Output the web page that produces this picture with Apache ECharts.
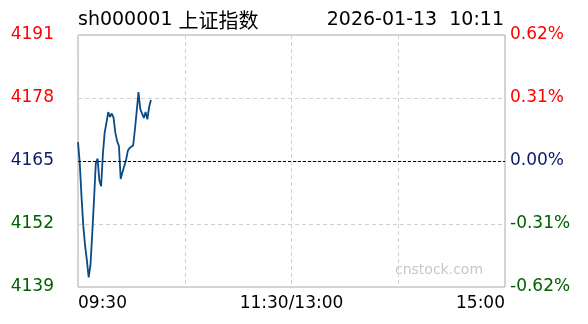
<!DOCTYPE html>
<html>
<head>
<meta charset="utf-8">
<script src="https://cdn.jsdelivr.net/npm/echarts@6/dist/echarts.min.js"></script>
<style>
html,body{margin:0;padding:0;background:#fff;}
#c{width:588px;height:324px;}
</style>
</head>
<body>
<div id="c"></div>
<script>
var titleCode = 'sh000001 ';
var titleName = '上证指数';
var dateText = '2026-01-13  10:11';
var watermark = 'cnstock.com';
var preClose = 4165;
var priceTickLabels = ['4139', '4152', '4165', '4178', '4191'];
var pctTickLabels = ['-0.62%', '-0.31%', '0.00%', '0.31%', '0.62%'];
var timeTickLabels = ['09:30', '', '11:30/13:00', '', '15:00'];
// minute-by-minute prices from 09:30 to 10:11
var prices = [
  4168.9, 4164.5, 4157.5, 4151.5, 4147.5, 4144.5, 4141.0, 4143.5, 4150.0, 4157.0,
  4164.5, 4165.5, 4161.0, 4159.8, 4166.5, 4170.9, 4172.9, 4175.1, 4174.1, 4174.8,
  4173.9, 4170.8, 4169.1, 4168.1, 4161.3, 4162.7, 4162.5, 4165.2, 4167.1, 4167.7,
  4167.5, 4168.2, 4171.5, 4175.3, 4179.2, 4175.7, 4175.6, 4173.9, 4175.1, 4173.6,
  4176.2, 4177.6
];

var FONT = '"DejaVu Sans", "Noto Sans CJK SC", sans-serif';
var labelColors = ['#006000', '#006000', '#0a1a6e', '#ff0000', '#ff0000'];
function tickIdx(v){ return Math.round((Number(v) + 26) / 13); }

var data = prices.map(function(p, i){ return [i, +(p - preClose).toFixed(2)]; });

var chart = echarts.init(document.getElementById('c'), null, {renderer:'canvas'});
chart.setOption({
  animation: false,
  backgroundColor: '#fff',
  grid: {left: 78, right: 83, top: 35, bottom: 37, show: true, borderColor: '#aaaaaa', borderWidth: 1, backgroundColor: 'transparent'},
  xAxis: {
    type: 'value', min: 0, max: 240, interval: 60,
    axisLine: {show: false}, axisTick: {show: false},
    splitLine: {show: true, lineStyle: {color: '#d0d0d0', type: [4, 3], width: 1}},
    axisLabel: {
      show: true, showMinLabel: true, showMaxLabel: true,
      alignMinLabel: 'left', alignMaxLabel: 'right',
      margin: 8, fontSize: 17, color: '#000', fontFamily: FONT,
      formatter: function(v){ return timeTickLabels[Math.round(v / 60)] || ''; }
    }
  },
  yAxis: [{
    type: 'value', min: -26, max: 26, interval: 13, position: 'left',
    axisLine: {show: false}, axisTick: {show: false},
    splitLine: {show: true, lineStyle: {color: '#d0d0d0', type: [4, 3], width: 1}},
    axisLabel: {
      margin: 24, fontSize: 17, fontFamily: FONT,
      formatter: function(v){ return priceTickLabels[tickIdx(v)]; },
      color: function(v){ return labelColors[tickIdx(v)]; }
    }
  }, {
    type: 'value', min: -26, max: 26, interval: 13, position: 'right',
    axisLine: {show: false}, axisTick: {show: false}, splitLine: {show: false},
    axisLabel: {
      margin: 5, fontSize: 17, fontFamily: FONT,
      formatter: function(v){ return pctTickLabels[tickIdx(v)]; },
      color: function(v){ return labelColors[tickIdx(v)]; }
    }
  }],
  graphic: [
    {type: 'text', x: 78, y: 20, style: {
      text: '{a|' + titleCode + '}{b|' + titleName + '}',
      rich: {a: {font: '19px ' + FONT, fill: '#000'}, b: {font: '20px "Noto Sans CJK SC", sans-serif', fill: '#000'}},
      fill: '#000', align: 'left', verticalAlign: 'middle'}},
    {type: 'text', x: 504, y: 20, style: {text: dateText, font: '19px ' + FONT, fill: '#000', align: 'right', verticalAlign: 'middle'}},
    {type: 'text', x: 395, y: 270, z: -1, style: {text: watermark, font: '14px ' + FONT, fill: '#c8c8c8', align: 'left', verticalAlign: 'middle'}}
  ],
  series: [{
    type: 'line', data: data, showSymbol: false, silent: true,
    lineStyle: {color: '#0a4b87', width: 1.8},
    markLine: {
      silent: true, symbol: 'none', label: {show: false},
      lineStyle: {color: '#000', type: [3, 2], width: 1},
      data: [{yAxis: 0}]
    }
  }]
});
</script>
</body>
</html>
